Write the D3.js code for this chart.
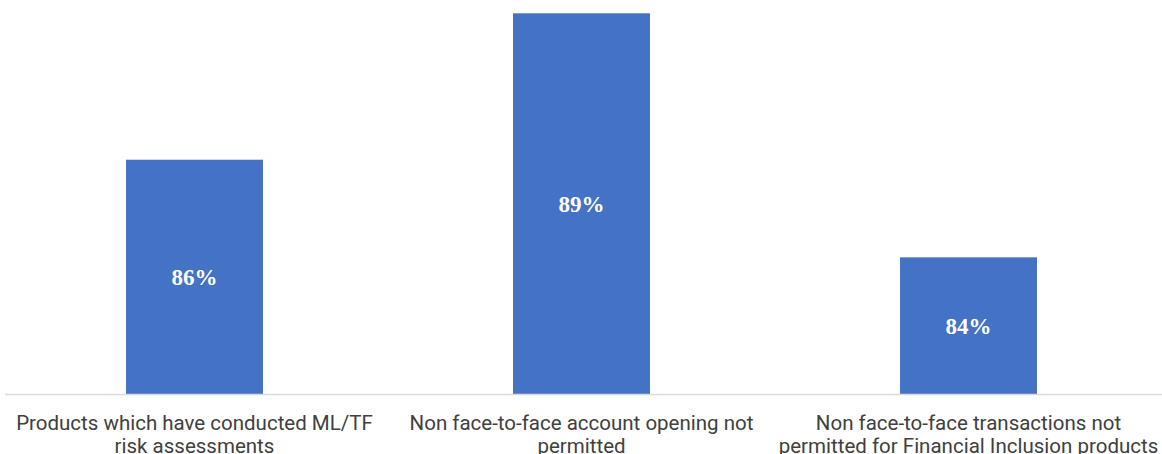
<!DOCTYPE html>
<html>
<head>
<meta charset="utf-8">
<script src="https://cdn.jsdelivr.net/npm/d3@7"></script>
<style>
  html, body { margin: 0; padding: 0; background: #ffffff; }
  svg { display: block; }
</style>
</head>
<body>
<svg id="chart" width="1162" height="454"></svg>
<script>
// Share of products (%) per control
const categories = [
  "Products which have conducted ML/TF risk assessments",
  "Non face-to-face account opening not permitted",
  "Non face-to-face transactions not permitted for Financial Inclusion products"
];
// Wrapped lines of each category label
const categoryLines = [
  ["Products which have conducted ML/TF", "risk assessments"],
  ["Non face-to-face account opening not", "permitted"],
  ["Non face-to-face transactions not", "permitted for Financial Inclusion products"]
];
const values = [86, 89, 84];
// Value axis bounds (axis itself is hidden)
const axisMin = 81.2;
const axisMax = 89;

const svg = d3.select("#chart");
const W = 1162, H = 454;
const plot = { left: 1, right: 1162, top: 13.3, bottom: 394 };

const x = d3.scaleBand()
  .domain(categories)
  .range([plot.left, plot.right])
  .paddingInner(0.646)
  .paddingOuter(0.323);

const y = d3.scaleLinear()
  .domain([axisMin, axisMax])
  .range([plot.bottom, plot.top]);

// Bars
svg.append("g")
  .selectAll("rect")
  .data(values)
  .join("rect")
  .attr("x", (d, i) => x(categories[i]))
  .attr("y", d => y(d))
  .attr("width", x.bandwidth())
  .attr("height", d => y(axisMin) - y(d))
  .attr("fill", "#4472c4");

// Category axis line
svg.append("line")
  .attr("x1", 5)
  .attr("x2", W)
  .attr("y1", y(axisMin) + 0.5)
  .attr("y2", y(axisMin) + 0.5)
  .attr("stroke", "#d9d9d9")
  .attr("stroke-width", 1.5);

// Value labels, centred in each bar
svg.append("g")
  .selectAll("text")
  .data(values)
  .join("text")
  .attr("x", (d, i) => x(categories[i]) + x.bandwidth() / 2)
  .attr("y", d => (y(d) + y(axisMin)) / 2)
  .attr("dy", "0.35em")
  .attr("text-anchor", "middle")
  .attr("font-family", "'Liberation Serif', 'Times New Roman', serif")
  .attr("font-weight", "bold")
  .attr("font-size", "23px")
  .attr("fill", "#ffffff")
  .text(d => d + "%");

// Category labels
const cat = svg.append("g")
  .selectAll("text")
  .data(categories)
  .join("text")
  .attr("x", d => x(d) + x.bandwidth() / 2)
  .attr("y", 429.5)
  .attr("text-anchor", "middle")
  .attr("font-family", "Roboto, 'Noto Sans', sans-serif")
  .attr("font-size", "20.5px")
  .attr("fill", "#404040");

cat.each(function(d, i) {
  d3.select(this)
    .selectAll("tspan")
    .data(categoryLines[i])
    .join("tspan")
    .attr("x", x(d) + x.bandwidth() / 2)
    .attr("dy", (l, j) => j === 0 ? 0 : 23)
    .text(l => l);
});
</script>
</body>
</html>
